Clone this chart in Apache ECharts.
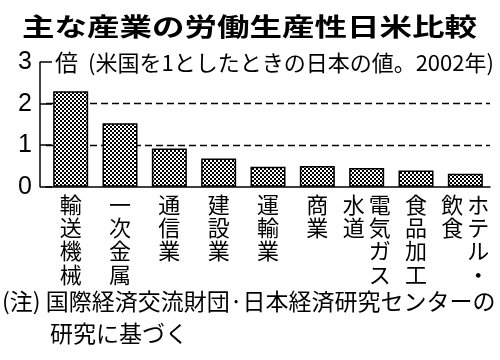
<!DOCTYPE html>
<html><head><meta charset="utf-8">
<script src="https://cdn.jsdelivr.net/npm/echarts@6/dist/echarts.min.js"></script>
<style>html,body{margin:0;padding:0;background:#fff}#c{width:500px;height:360px}</style>
</head><body><div id="c"></div>
<script>
const titleText = '主な産業の労働生産性日米比較';
const subtitleText = '(米国を1としたときの日本の値。2002年)';
const unitText = '倍';
const noteLine1 = '(注) 国際経済交流財団·日本経済研究センターの';
const noteLine2 = '研究に基づく';
// '|' separates vertical columns (read right to left)
const categories = ['輸送機械', '一次金属', '通信業', '建設業', '運輸業', '商業', '電気ガス|水道', '食品加工', 'ホテル・|飲食'];
const values = [2.3, 1.53, 0.92, 0.68, 0.48, 0.5, 0.45, 0.39, 0.31];
const yMin = 0, yMax = 3, yStep = 1;

const CJK = '"Noto Sans CJK JP", sans-serif';

const pc = document.createElement('canvas');
pc.width = 4; pc.height = 4;
const g = pc.getContext('2d');
g.fillStyle = '#fff'; g.fillRect(0, 0, 4, 4);
g.fillStyle = '#000'; g.fillRect(0, 0, 2, 2); g.fillRect(2, 2, 2, 2);

const chart = echarts.init(document.getElementById('c'), null, {renderer: 'canvas'});
chart.setOption({
  backgroundColor: '#fff',
  animation: false,
  grid: {left: 46, right: 10, top: 62.2, bottom: 173.3, containLabel: false},
  xAxis: {
    type: 'category',
    data: categories,
    axisLine: {show: true, lineStyle: {color: '#000', width: 1.5}},
    axisTick: {show: false},
    axisLabel: {
      interval: 0,
      margin: 6,
      formatter: function (v) {
        const cols = v.split('|').reverse();
        const rows = Math.max.apply(null, cols.map(c => c.length));
        const lines = [];
        for (let r = 0; r < rows; r++) {
          lines.push(cols.map(c => '{c|' + (c[r] || '　') + '}').join(''));
        }
        return lines.join('\n');
      },
      rich: {
        c: {width: 26, align: 'center', fontSize: 22, lineHeight: 23.3, fontFamily: CJK, color: '#000'}
      }
    }
  },
  yAxis: {
    type: 'value',
    min: yMin, max: yMax, interval: yStep,
    offset: 6,
    axisLine: {show: true, lineStyle: {color: '#000', width: 1.5}},
    axisTick: {show: true, inside: true, length: 12, lineStyle: {color: '#000', width: 1.5}},
    axisLabel: {margin: 8, fontFamily: '"Liberation Sans", sans-serif', fontSize: 25, color: '#000'},
    splitLine: {show: true, lineStyle: {color: ['rgba(0,0,0,0)', '#000', '#000', 'rgba(0,0,0,0)'], type: [7, 4], width: 1.3}}
  },
  series: [{
    type: 'bar',
    data: values,
    barWidth: 35,
    itemStyle: {color: {image: pc, repeat: 'repeat'}, borderColor: '#000', borderWidth: 1.5},
    emphasis: {disabled: true}
  }],
  graphic: [
    {type: 'text', x: 22, y: 26, scaleX: 1.3, style: {text: titleText, font: 'bold 25px ' + CJK, fill: '#000', textVerticalAlign: 'middle'}},
    {type: 'text', x: 55, y: 62.5, style: {text: unitText, font: '23px ' + CJK, fill: '#000', textVerticalAlign: 'middle'}},
    {type: 'text', x: 88, y: 62.5, style: {text: subtitleText, font: '22px ' + CJK, fill: '#000', textVerticalAlign: 'middle'}},
    {type: 'text', x: 2, y: 301.5, style: {text: noteLine1, font: '23px ' + CJK, fill: '#000', textVerticalAlign: 'middle'}},
    {type: 'text', x: 50, y: 333.5, style: {text: noteLine2, font: '23px ' + CJK, fill: '#000', textVerticalAlign: 'middle'}}
  ]
});
</script>
</body></html>
